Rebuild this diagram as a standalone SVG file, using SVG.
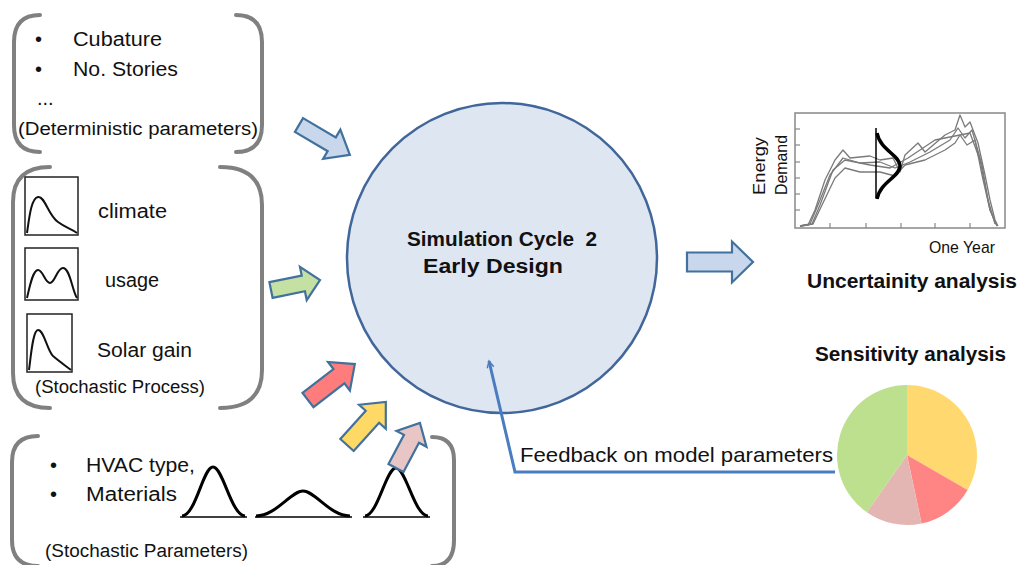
<svg xmlns="http://www.w3.org/2000/svg" width="1020" height="565" viewBox="0 0 1020 565">
  <defs>
    <style>
      text { font-family: "Liberation Sans", Arial, sans-serif; fill: #111; }
      .lbl { font-size: 20px; }
      .cap { font-size: 18px; }
      .bold { font-weight: bold; }
      .bracket { fill: none; stroke: #808080; stroke-width: 4; stroke-linecap: round; }
      .blk { stroke: #41719c; stroke-width: 2.2; stroke-linejoin: miter; }
      .pdf { fill: none; stroke: #111; stroke-width: 2; }
      .pbox { fill: none; stroke: #222; stroke-width: 1.5; }
      .gauss { fill: none; stroke: #000; stroke-width: 3; }
      .axis { stroke: #000; stroke-width: 1.3; }
      .trace { fill: none; stroke: #7a7a7a; stroke-width: 1.3; stroke-linejoin: round; }
      .tick { stroke: #888; stroke-width: 1.2; }
    </style>
    <marker id="openHead" viewBox="0 0 12 12" refX="11" refY="6" markerWidth="8" markerHeight="8" markerUnits="userSpaceOnUse" orient="auto" overflow="visible">
      <path d="M1,1 L11,6 L1,11" fill="none" stroke="#4a7cc0" stroke-width="2.2" stroke-linejoin="miter"/>
    </marker>
  </defs>

  <rect width="1020" height="565" fill="#ffffff"/>

  <!-- Deterministic parameters -->
  <g id="deterministic">
    <path class="bracket" d="M40,15 Q14,15 14,42 L14,125 Q14,152 40,152"/>
    <path class="bracket" d="M236,15 Q262,15 262,42 L262,125 Q262,152 236,152"/>
    <text class="lbl" x="35" y="46">•</text>
    <text class="lbl" x="73" y="46" textLength="89" lengthAdjust="spacingAndGlyphs">Cubature</text>
    <text class="lbl" x="35" y="76">•</text>
    <text class="lbl" x="73" y="76" textLength="105" lengthAdjust="spacingAndGlyphs">No. Stories</text>
    <text class="lbl" x="37" y="105">...</text>
    <text class="cap" x="18" y="135" textLength="240" lengthAdjust="spacingAndGlyphs">(Deterministic parameters)</text>
  </g>

  <!-- Stochastic process -->
  <g id="stochastic-process">
    <path class="bracket" d="M50,167 Q13,167 13,202 L13,373 Q13,408 50,408"/>
    <path class="bracket" d="M220,167 Q262,167 262,205 L262,370 Q262,408 220,408"/>
    <rect class="pbox" x="25" y="177" width="53" height="58"/>
    <path class="pdf" d="M27,233 C29,220 31,198 38,197 C45,196 48,215 58,222 C66,228 72,229 77,233"/>
    <rect class="pbox" x="25" y="248" width="53" height="52"/>
    <path class="pdf" d="M27,298 C30,285 33,270 38,270 C43,270 45,283 50,283 C55,283 57,268 63,268 C70,268 72,290 77,298"/>
    <rect class="pbox" x="27" y="314" width="45" height="58"/>
    <path class="pdf" d="M29,370 C31,355 33,330 38,330 C44,330 47,350 53,356 C60,362 66,366 71,370"/>
    <text class="lbl" x="98" y="218" textLength="69" lengthAdjust="spacingAndGlyphs">climate</text>
    <text class="lbl" x="105" y="287" textLength="54" lengthAdjust="spacingAndGlyphs">usage</text>
    <text class="lbl" x="97" y="357" textLength="95" lengthAdjust="spacingAndGlyphs">Solar gain</text>
    <text class="cap" x="35" y="393" textLength="170" lengthAdjust="spacingAndGlyphs">(Stochastic Process)</text>
  </g>

  <!-- Stochastic parameters -->
  <g id="stochastic-parameters">
    <path class="bracket" d="M38,436 Q12,436 12,462 L12,540 Q12,566 38,566"/>
    <path class="bracket" d="M432,437 Q454,437 454,460 L454,540 Q454,566 432,566"/>
    <text class="lbl" x="50" y="472">•</text>
    <text class="lbl" x="86" y="472" textLength="109" lengthAdjust="spacingAndGlyphs">HVAC type,</text>
    <text class="lbl" x="50" y="501">•</text>
    <text class="lbl" x="86" y="501" textLength="91" lengthAdjust="spacingAndGlyphs">Materials</text>
    <line class="axis" x1="180" y1="517" x2="247" y2="517"/>
    <line class="axis" x1="255" y1="517" x2="352" y2="517"/>
    <line class="axis" x1="363" y1="517" x2="430" y2="517"/>
    <path class="gauss" d="M182,516 C196,515 203,467 213,467 C223,467 231,515 245,516"/>
    <path class="gauss" d="M256,516 C276,516 291,491 303,491 C315,491 330,516 350,516"/>
    <path class="gauss" d="M365,516 C378,515 386,468 396,468 C406,468 414,515 428,516"/>
    <text class="cap" x="45" y="557" textLength="203" lengthAdjust="spacingAndGlyphs">(Stochastic Parameters)</text>
  </g>

  <!-- Central simulation node -->
  <g id="simulation">
    <circle cx="502" cy="258" r="155" fill="#dee6f1" stroke="#41669a" stroke-width="2.5"/>
    <text class="lbl bold" x="407" y="246" textLength="190" lengthAdjust="spacingAndGlyphs">Simulation Cycle&#160; 2</text>
    <text class="lbl bold" x="423" y="273" textLength="140" lengthAdjust="spacingAndGlyphs">Early Design</text>
  </g>

  <!-- Uncertainty chart -->
  <g id="uncertainty">
    <rect x="795" y="113" width="210" height="115" fill="none" stroke="#888" stroke-width="1.5"/>
    <g>
      <line class="tick" x1="795" y1="129" x2="800" y2="129"/>
      <line class="tick" x1="795" y1="145" x2="800" y2="145"/>
      <line class="tick" x1="795" y1="162" x2="800" y2="162"/>
      <line class="tick" x1="795" y1="178" x2="800" y2="178"/>
      <line class="tick" x1="795" y1="194" x2="800" y2="194"/>
      <line class="tick" x1="795" y1="210" x2="800" y2="210"/>
      <line class="tick" x1="830" y1="228" x2="830" y2="223"/>
      <line class="tick" x1="866" y1="228" x2="866" y2="223"/>
      <line class="tick" x1="901" y1="228" x2="901" y2="223"/>
      <line class="tick" x1="935" y1="228" x2="935" y2="223"/>
      <line class="tick" x1="970" y1="228" x2="970" y2="223"/>
    </g>
    <polyline class="trace" points="800,226 808,225 815,210 825,180 835,160 843,150 850,158 870,156 880,160 893,158 900,172 905,155 918,143 925,152 945,135 955,130 960,115 965,127 970,122 978,143 985,175 990,200 995,220 998,226"/>
    <polyline class="trace" points="800,226 810,224 818,205 830,175 843,158 860,163 880,162 895,168 910,162 930,152 950,140 958,128 965,138 972,130 982,165 988,200 995,224"/>
    <polyline class="trace" points="800,226 812,224 820,205 833,170 845,160 870,165 890,168 908,158 935,140 960,135 970,133 980,160 990,210 997,226"/>
    <polyline class="trace" points="800,226 813,224 822,205 835,178 845,168 860,172 880,172 895,176 905,165 925,160 945,150 955,143 960,135 967,145 975,140 982,175 990,210 997,226"/>
    <line x1="876" y1="128" x2="876" y2="198" stroke="#000" stroke-width="1.5"/>
    <path d="M877,133 C880,150 900,155 900,166 C900,177 880,182 877,199" fill="none" stroke="#000" stroke-width="3.5"/>
    <text font-size="17" transform="translate(765,166) rotate(-90)" text-anchor="middle" textLength="58" lengthAdjust="spacingAndGlyphs">Energy</text>
    <text font-size="17" transform="translate(787,165) rotate(-90)" text-anchor="middle" textLength="60" lengthAdjust="spacingAndGlyphs">Demand</text>
    <text font-size="17" x="929" y="253" textLength="66" lengthAdjust="spacingAndGlyphs">One Year</text>
    <text class="lbl bold" x="807" y="288" textLength="210" lengthAdjust="spacingAndGlyphs">Uncertainity analysis</text>
  </g>

  <!-- Sensitivity pie -->
  <g id="sensitivity">
    <text class="lbl bold" x="815" y="361" textLength="191" lengthAdjust="spacingAndGlyphs">Sensitivity analysis</text>
    <path d="M907,455 L907,385 A70,70 0 0 1 967.6,490 Z" fill="#ffd970"/>
    <path d="M907,455 L967.6,490 A70,70 0 0 1 921.6,523.5 Z" fill="#ff8585"/>
    <path d="M907,455 L921.6,523.5 A70,70 0 0 1 866.8,512.3 Z" fill="#e4b6b3"/>
    <path d="M907,455 L866.8,512.3 A70,70 0 0 1 907,385 Z" fill="#bde08f"/>
  </g>

  <!-- Connectors -->
  <g id="connectors">
    <polygon class="blk" fill="#c9d7ec" transform="translate(299,125) rotate(30.5)" points="0,-8 38,-8 38,-17 59,0 38,17 38,8 0,8"/>
    <polygon class="blk" fill="#c5e0a3" transform="translate(271,290) rotate(-11.5)" points="0,-8 33,-8 33,-17 50,0 33,17 33,8 0,8"/>
    <polygon class="blk" fill="#ff7c7c" transform="translate(308,400) rotate(-37.5)" points="0,-9 39,-9 39,-18 59,0 39,18 39,9 0,9"/>
    <polygon class="blk" fill="#ffd966" transform="translate(347,445) rotate(-48)" points="0,-9 38,-9 38,-18 58,0 38,18 38,9 0,9"/>
    <polygon class="blk" fill="#e8c6c6" transform="translate(396,468) rotate(-62)" points="0,-8.5 33,-8.5 33,-17 51,0 33,17 33,8.5 0,8.5"/>
    <polygon class="blk" fill="#c9d7ec" transform="translate(687,262)" points="0,-9.5 45,-9.5 45,-20.5 66,0 45,20.5 45,9.5 0,9.5"/>
    <polyline points="835,472 515,472 489,361" fill="none" stroke="#4a7cc0" stroke-width="3" marker-end="url(#openHead)"/>
    <text font-size="21" x="520" y="462" textLength="313" lengthAdjust="spacingAndGlyphs">Feedback on model parameters</text>
  </g>
</svg>
